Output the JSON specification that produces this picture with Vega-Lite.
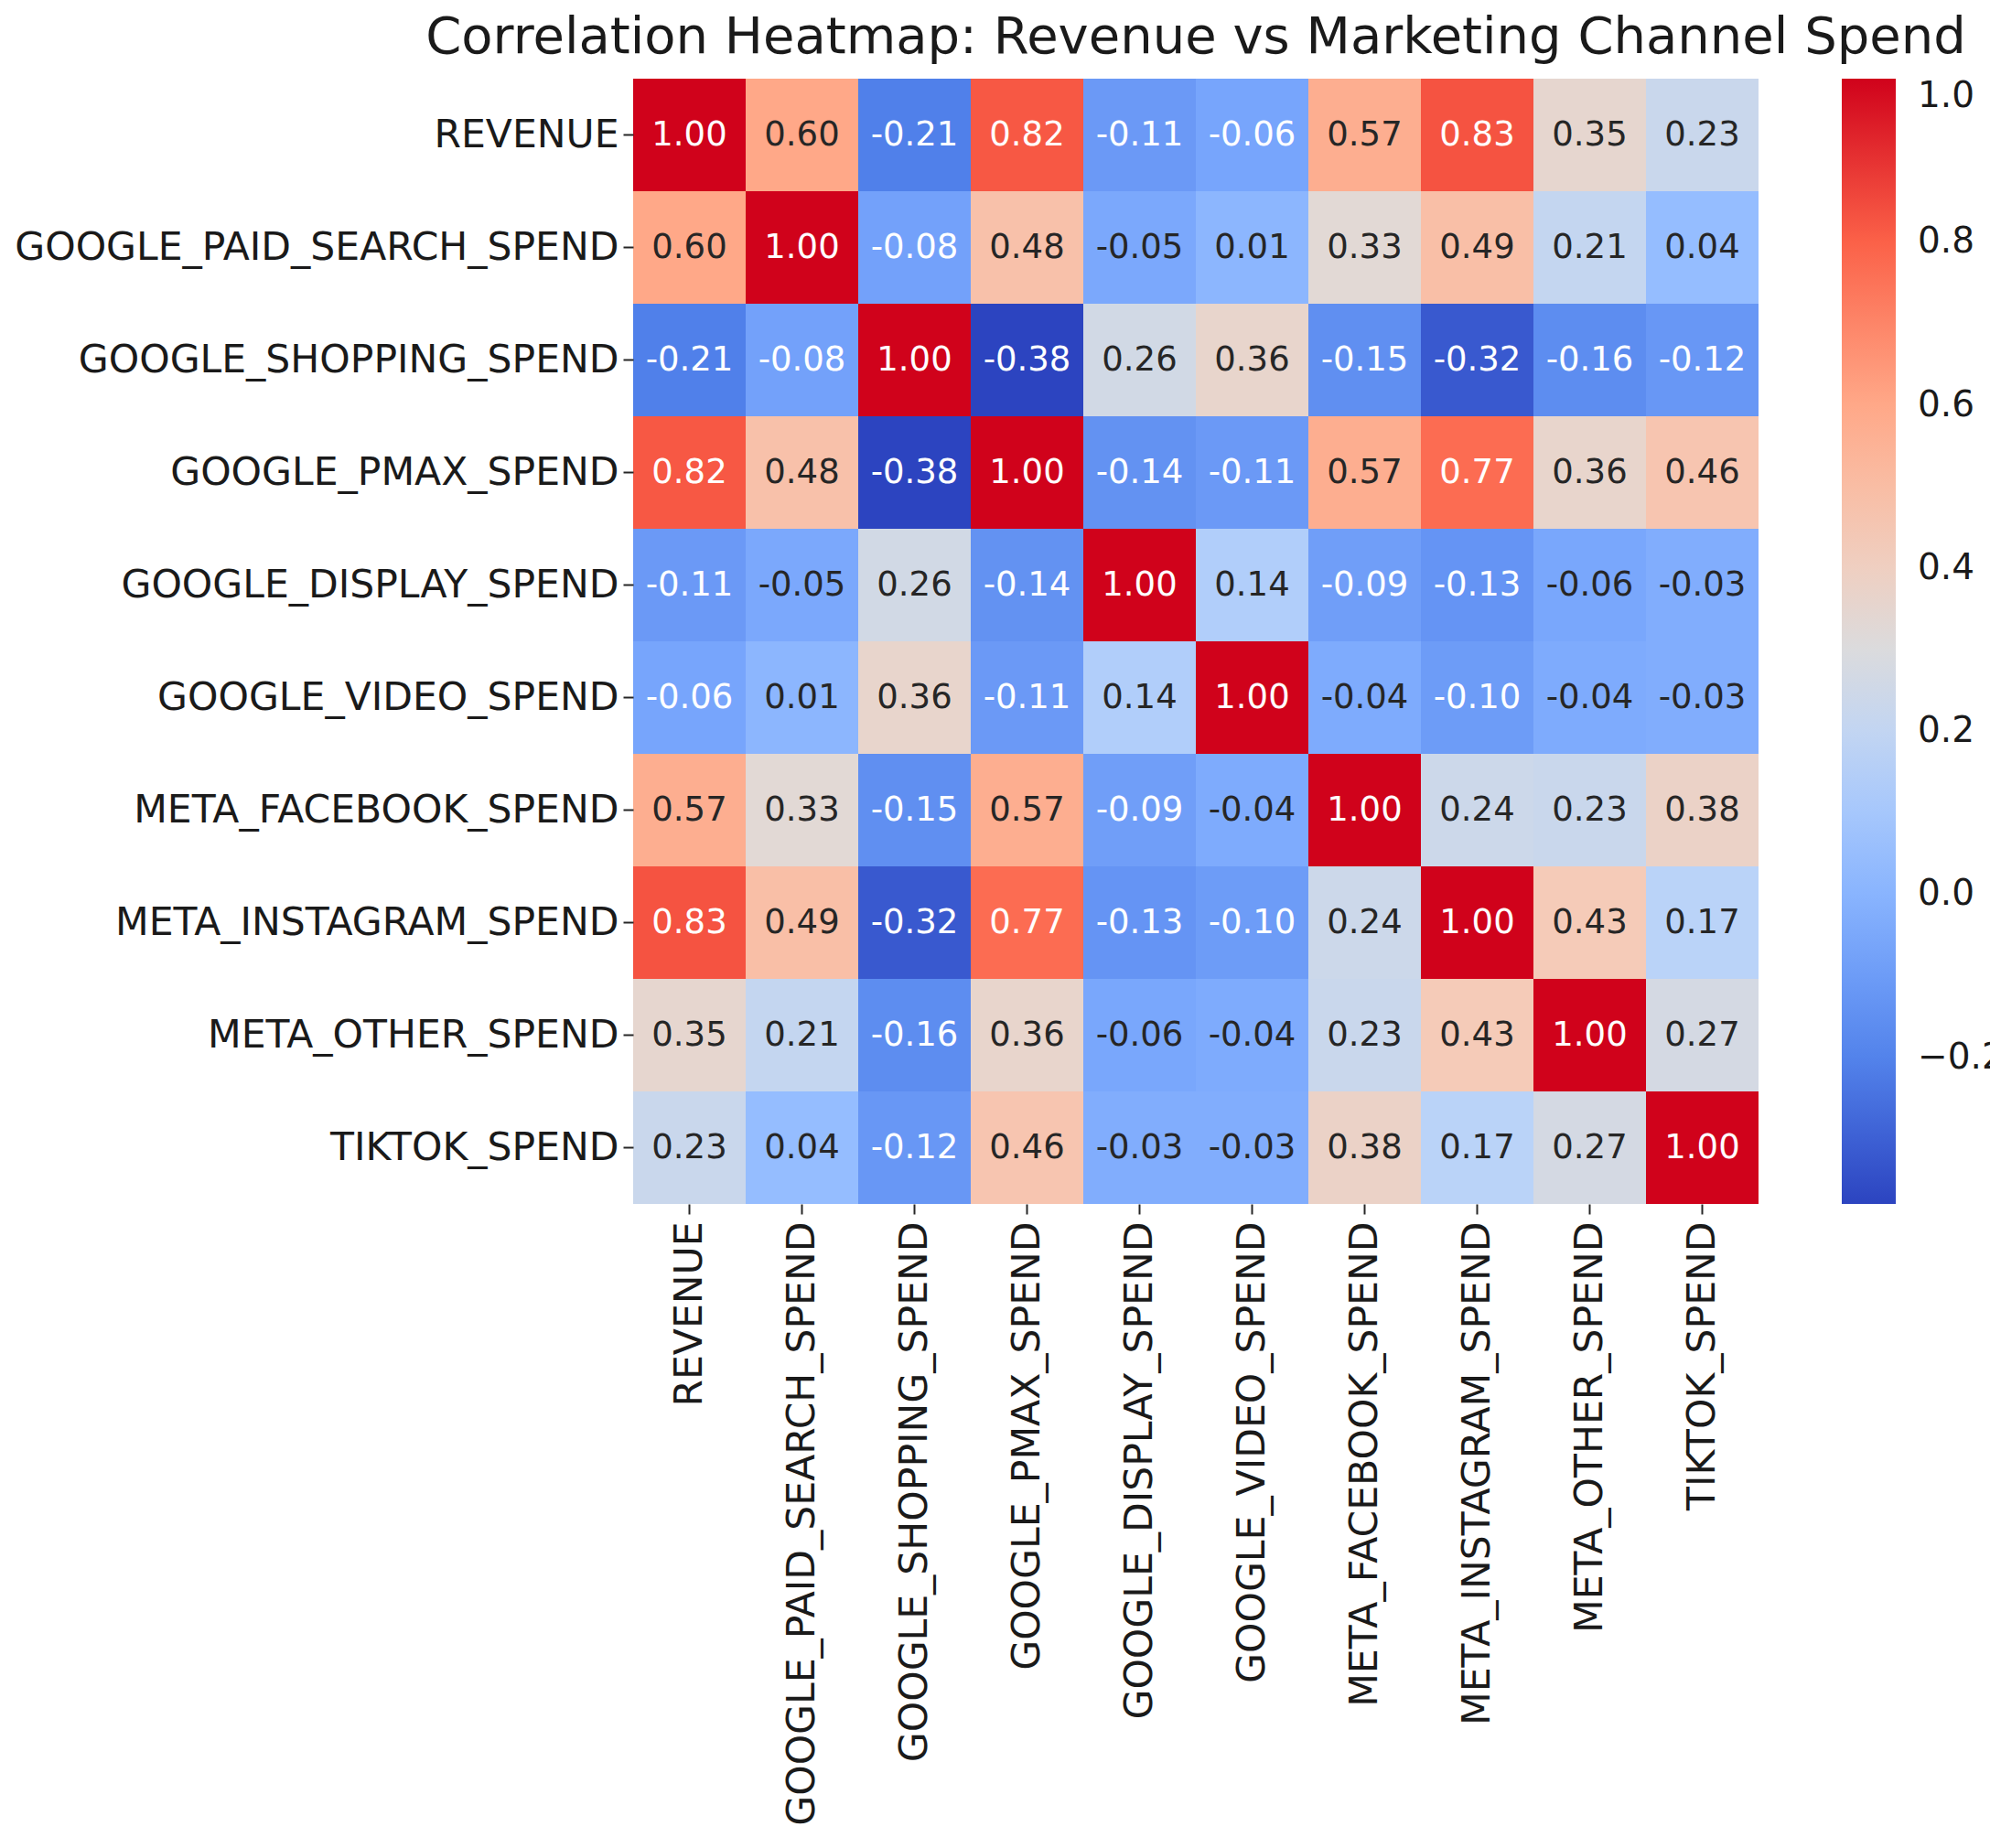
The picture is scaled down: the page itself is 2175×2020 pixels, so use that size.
{
  "$schema": "https://vega.github.io/schema/vega-lite/v6.json",
  "autosize": "none",
  "width": 1230,
  "height": 1230,
  "padding": {"left": 692, "top": 86, "right": 253, "bottom": 704},
  "background": "white",
  "config": {"view": {"stroke": null}, "font": "DejaVu Sans",
    "locale": {"number": {"decimal": ".", "thousands": ",", "grouping": [3], "currency": ["$", ""], "minus": "-"}}},
  "title": {"text": "Correlation Heatmap: Revenue vs Marketing Channel Spend", "fontSize": 56, "fontWeight": "normal", "font": "DejaVu Sans", "color": "#1a1a1a", "anchor": "middle", "offset": 16},
  "data": {"values": [
    {"row": "REVENUE", "REVENUE": 1.00, "GOOGLE_PAID_SEARCH_SPEND": 0.60, "GOOGLE_SHOPPING_SPEND": -0.21, "GOOGLE_PMAX_SPEND": 0.82, "GOOGLE_DISPLAY_SPEND": -0.11, "GOOGLE_VIDEO_SPEND": -0.064, "META_FACEBOOK_SPEND": 0.57, "META_INSTAGRAM_SPEND": 0.83, "META_OTHER_SPEND": 0.35, "TIKTOK_SPEND": 0.23},
    {"row": "GOOGLE_PAID_SEARCH_SPEND", "REVENUE": 0.60, "GOOGLE_PAID_SEARCH_SPEND": 1.00, "GOOGLE_SHOPPING_SPEND": -0.08, "GOOGLE_PMAX_SPEND": 0.48, "GOOGLE_DISPLAY_SPEND": -0.05, "GOOGLE_VIDEO_SPEND": 0.01, "META_FACEBOOK_SPEND": 0.33, "META_INSTAGRAM_SPEND": 0.49, "META_OTHER_SPEND": 0.21, "TIKTOK_SPEND": 0.04},
    {"row": "GOOGLE_SHOPPING_SPEND", "REVENUE": -0.21, "GOOGLE_PAID_SEARCH_SPEND": -0.08, "GOOGLE_SHOPPING_SPEND": 1.00, "GOOGLE_PMAX_SPEND": -0.38, "GOOGLE_DISPLAY_SPEND": 0.26, "GOOGLE_VIDEO_SPEND": 0.36, "META_FACEBOOK_SPEND": -0.15, "META_INSTAGRAM_SPEND": -0.32, "META_OTHER_SPEND": -0.16, "TIKTOK_SPEND": -0.12},
    {"row": "GOOGLE_PMAX_SPEND", "REVENUE": 0.82, "GOOGLE_PAID_SEARCH_SPEND": 0.48, "GOOGLE_SHOPPING_SPEND": -0.38, "GOOGLE_PMAX_SPEND": 1.00, "GOOGLE_DISPLAY_SPEND": -0.14, "GOOGLE_VIDEO_SPEND": -0.11, "META_FACEBOOK_SPEND": 0.57, "META_INSTAGRAM_SPEND": 0.77, "META_OTHER_SPEND": 0.36, "TIKTOK_SPEND": 0.46},
    {"row": "GOOGLE_DISPLAY_SPEND", "REVENUE": -0.11, "GOOGLE_PAID_SEARCH_SPEND": -0.05, "GOOGLE_SHOPPING_SPEND": 0.26, "GOOGLE_PMAX_SPEND": -0.14, "GOOGLE_DISPLAY_SPEND": 1.00, "GOOGLE_VIDEO_SPEND": 0.14, "META_FACEBOOK_SPEND": -0.09, "META_INSTAGRAM_SPEND": -0.13, "META_OTHER_SPEND": -0.056, "TIKTOK_SPEND": -0.03},
    {"row": "GOOGLE_VIDEO_SPEND", "REVENUE": -0.064, "GOOGLE_PAID_SEARCH_SPEND": 0.01, "GOOGLE_SHOPPING_SPEND": 0.36, "GOOGLE_PMAX_SPEND": -0.11, "GOOGLE_DISPLAY_SPEND": 0.14, "GOOGLE_VIDEO_SPEND": 1.00, "META_FACEBOOK_SPEND": -0.04, "META_INSTAGRAM_SPEND": -0.10, "META_OTHER_SPEND": -0.04, "TIKTOK_SPEND": -0.03},
    {"row": "META_FACEBOOK_SPEND", "REVENUE": 0.57, "GOOGLE_PAID_SEARCH_SPEND": 0.33, "GOOGLE_SHOPPING_SPEND": -0.15, "GOOGLE_PMAX_SPEND": 0.57, "GOOGLE_DISPLAY_SPEND": -0.09, "GOOGLE_VIDEO_SPEND": -0.04, "META_FACEBOOK_SPEND": 1.00, "META_INSTAGRAM_SPEND": 0.24, "META_OTHER_SPEND": 0.23, "TIKTOK_SPEND": 0.38},
    {"row": "META_INSTAGRAM_SPEND", "REVENUE": 0.83, "GOOGLE_PAID_SEARCH_SPEND": 0.49, "GOOGLE_SHOPPING_SPEND": -0.32, "GOOGLE_PMAX_SPEND": 0.77, "GOOGLE_DISPLAY_SPEND": -0.13, "GOOGLE_VIDEO_SPEND": -0.10, "META_FACEBOOK_SPEND": 0.24, "META_INSTAGRAM_SPEND": 1.00, "META_OTHER_SPEND": 0.43, "TIKTOK_SPEND": 0.17},
    {"row": "META_OTHER_SPEND", "REVENUE": 0.35, "GOOGLE_PAID_SEARCH_SPEND": 0.21, "GOOGLE_SHOPPING_SPEND": -0.16, "GOOGLE_PMAX_SPEND": 0.36, "GOOGLE_DISPLAY_SPEND": -0.056, "GOOGLE_VIDEO_SPEND": -0.04, "META_FACEBOOK_SPEND": 0.23, "META_INSTAGRAM_SPEND": 0.43, "META_OTHER_SPEND": 1.00, "TIKTOK_SPEND": 0.27},
    {"row": "TIKTOK_SPEND", "REVENUE": 0.23, "GOOGLE_PAID_SEARCH_SPEND": 0.04, "GOOGLE_SHOPPING_SPEND": -0.12, "GOOGLE_PMAX_SPEND": 0.46, "GOOGLE_DISPLAY_SPEND": -0.03, "GOOGLE_VIDEO_SPEND": -0.03, "META_FACEBOOK_SPEND": 0.38, "META_INSTAGRAM_SPEND": 0.17, "META_OTHER_SPEND": 0.27, "TIKTOK_SPEND": 1.00}
  ]},
  "transform": [
    {"fold": ["REVENUE", "GOOGLE_PAID_SEARCH_SPEND", "GOOGLE_SHOPPING_SPEND", "GOOGLE_PMAX_SPEND", "GOOGLE_DISPLAY_SPEND", "GOOGLE_VIDEO_SPEND", "META_FACEBOOK_SPEND", "META_INSTAGRAM_SPEND", "META_OTHER_SPEND", "TIKTOK_SPEND"], "as": ["col", "r"]}
  ],
  "encoding": {
    "x": {"field": "col", "type": "nominal", "sort": ["REVENUE", "GOOGLE_PAID_SEARCH_SPEND", "GOOGLE_SHOPPING_SPEND", "GOOGLE_PMAX_SPEND", "GOOGLE_DISPLAY_SPEND", "GOOGLE_VIDEO_SPEND", "META_FACEBOOK_SPEND", "META_INSTAGRAM_SPEND", "META_OTHER_SPEND", "TIKTOK_SPEND"],
      "axis": {"title": null, "orient": "bottom", "labelAngle": 270, "labelAlign": "right", "labelBaseline": "middle", "labelFontSize": 42.5, "labelColor": "#1a1a1a", "labelFont": "DejaVu Sans", "labelLimit": 0, "labelPadding": 8, "tickSize": 11, "tickWidth": 2, "tickColor": "#262626", "domain": false}},
    "y": {"field": "row", "type": "nominal", "sort": ["REVENUE", "GOOGLE_PAID_SEARCH_SPEND", "GOOGLE_SHOPPING_SPEND", "GOOGLE_PMAX_SPEND", "GOOGLE_DISPLAY_SPEND", "GOOGLE_VIDEO_SPEND", "META_FACEBOOK_SPEND", "META_INSTAGRAM_SPEND", "META_OTHER_SPEND", "TIKTOK_SPEND"],
      "axis": {"title": null, "labelFontSize": 42.5, "labelColor": "#1a1a1a", "labelFont": "DejaVu Sans", "labelLimit": 0, "labelPadding": 5, "tickSize": 11, "tickWidth": 2, "tickColor": "#262626", "domain": false}}
  },
  "layer": [
    {"mark": {"type": "rect"},
      "encoding": {"color": {"field": "r", "type": "quantitative",
        "scale": {"type": "linear", "domain": [-0.38, -0.21, -0.06, 0.04, 0.17, 0.31, 0.43, 0.6, 0.8, 1.0], "range": ["#2C44C0", "#5080EA", "#78A6FC", "#95BDFF", "#BAD3F8", "#DEDCDB", "#F5CBB8", "#FFA888", "#FB6148", "#D0021B"], "interpolate": "rgb"},
        "legend": {"title": null, "orient": "none", "legendX": 1321, "legendY": 0, "direction": "vertical", "gradientLength": 1230, "gradientThickness": 59, "gradientStrokeWidth": 0, "padding": 0, "values": [1.0, 0.8, 0.6, 0.4, 0.2, 0.0, -0.2], "format": ".1f", "labelExpr": "replace(datum.label, '-', '\u2212')", "labelFontSize": 39, "labelFont": "DejaVu Sans", "labelColor": "#1a1a1a", "labelOffset": 24, "labelBaseline": "middle", "labelOverlap": false}}}},
    {"mark": {"type": "text", "fontSize": 37, "font": "DejaVu Sans"},
      "encoding": {"text": {"field": "r", "type": "quantitative", "format": ".2f"},
        "color": {"condition": {"test": "datum.r < -0.06 || datum.r > 0.7", "value": "#ffffff"}, "value": "#262626"}}}
  ]
}
